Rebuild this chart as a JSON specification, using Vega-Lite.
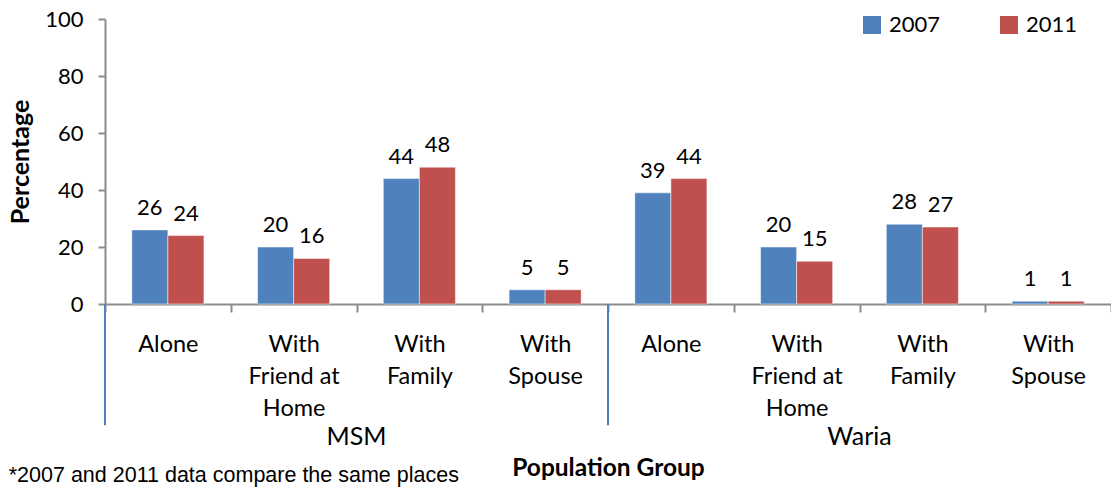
{
  "$schema": "https://vega.github.io/schema/vega-lite/v6.json",
  "width": 1006,
  "height": 285,
  "autosize": {"type": "none"},
  "padding": {"left": 105, "top": 19, "right": 0, "bottom": 184},
  "config": {
    "font": "Lato",
    "view": {"stroke": null},
    "axis": {"labelColor": "#000", "titleColor": "#000"}
  },
  "datasets": {
    "bars": [
      {"group": "MSM", "living": "Alone", "year": "2007", "value": 26},
      {"group": "MSM", "living": "Alone", "year": "2011", "value": 24},
      {"group": "MSM", "living": "With Friend at Home", "year": "2007", "value": 20},
      {"group": "MSM", "living": "With Friend at Home", "year": "2011", "value": 16},
      {"group": "MSM", "living": "With Family", "year": "2007", "value": 44},
      {"group": "MSM", "living": "With Family", "year": "2011", "value": 48},
      {"group": "MSM", "living": "With Spouse", "year": "2007", "value": 5},
      {"group": "MSM", "living": "With Spouse", "year": "2011", "value": 5},
      {"group": "Waria", "living": "Alone", "year": "2007", "value": 39},
      {"group": "Waria", "living": "Alone", "year": "2011", "value": 44},
      {"group": "Waria", "living": "With Friend at Home", "year": "2007", "value": 20},
      {"group": "Waria", "living": "With Friend at Home", "year": "2011", "value": 15},
      {"group": "Waria", "living": "With Family", "year": "2007", "value": 28},
      {"group": "Waria", "living": "With Family", "year": "2011", "value": 27},
      {"group": "Waria", "living": "With Spouse", "year": "2007", "value": 1},
      {"group": "Waria", "living": "With Spouse", "year": "2011", "value": 1}
    ],
    "groups": [
      {"group": "MSM", "first": "MSM~Alone", "middle": "MSM~With Friend at Home"},
      {"group": "Waria", "first": "Waria~Alone", "middle": "Waria~With Friend at Home"}
    ]
  },
  "title": {
    "text": "*2007 and 2011 data compare the same places",
    "orient": "bottom",
    "anchor": "start",
    "frame": "bounds",
    "font": "Liberation Sans",
    "fontSize": 21.5,
    "fontWeight": "normal",
    "color": "#000",
    "offset": -15
  },
  "encoding": {
    "x": {
      "type": "nominal",
      "scale": {
        "domain": ["MSM~Alone", "MSM~With Friend at Home", "MSM~With Family", "MSM~With Spouse", "Waria~Alone", "Waria~With Friend at Home", "Waria~With Family", "Waria~With Spouse"],
        "paddingInner": 0,
        "paddingOuter": 0
      },
      "axis": {
        "title": "Population Group",
        "titleFontSize": 24.5,
        "titleFontWeight": "bold",
        "titlePadding": 37,
        "labelExpr": "isString(datum.value) ? split(replace(replace(slice(datum.value, indexof(datum.value, '~') + 1), 'With ', 'With~'), 'Friend at ', 'Friend at~'), '~') : ''",
        "labelAngle": 0,
        "labelFontSize": 23.5,
        "labelLineHeight": 32,
        "labelPadding": 20,
        "labelLimit": 300,
        "tickSize": 8,
        "tickWidth": 2,
        "tickColor": "#8c8c8c",
        "tickBand": "extent",
        "domainColor": "#8c8c8c",
        "domainWidth": 2
      }
    }
  },
  "layer": [
    {
      "data": {"name": "bars"},
      "transform": [{"calculate": "datum.group + '~' + datum.living", "as": "key"}],
      "mark": {"type": "bar", "stroke": "#ffffff", "strokeWidth": 0.5},
      "encoding": {
        "x": {"field": "key", "type": "nominal"},
        "xOffset": {"field": "year", "type": "nominal", "scale": {"paddingOuter": 0.744, "paddingInner": 0}},
        "y": {
          "field": "value",
          "type": "quantitative",
          "scale": {"domain": [0, 100]},
          "axis": {
            "title": "Percentage",
            "titleFontSize": 25,
            "titleFontWeight": "bold",
            "titlePadding": 11,
            "values": [0, 20, 40, 60, 80, 100],
            "grid": false,
            "labelFontSize": 22,
            "labelPadding": 15,
            "tickSize": 7,
            "tickWidth": 2,
            "tickColor": "#8c8c8c",
            "domainColor": "#8c8c8c",
            "domainWidth": 2
          }
        },
        "color": {
          "field": "year",
          "type": "nominal",
          "scale": {"domain": ["2007", "2011"], "range": ["#4F81BD", "#C0504D"]},
          "legend": {
            "title": null,
            "orient": "none",
            "legendX": 756,
            "legendY": -5,
            "direction": "horizontal",
            "symbolType": "square",
            "symbolSize": 324,
            "symbolStrokeWidth": 0,
            "labelFontSize": 22,
            "labelOffset": 6,
            "columnPadding": 57,
            "labelColor": "#000"
          }
        }
      }
    },
    {
      "data": {"name": "bars"},
      "transform": [{"calculate": "datum.group + '~' + datum.living", "as": "key"}],
      "mark": {"type": "text", "baseline": "alphabetic", "dy": -15, "fontSize": 22, "color": "#000"},
      "encoding": {
        "x": {"field": "key", "type": "nominal"},
        "xOffset": {"field": "year", "type": "nominal", "scale": {"paddingOuter": 0.744, "paddingInner": 0}},
        "y": {"field": "value", "type": "quantitative"},
        "text": {"field": "value", "type": "quantitative"}
      }
    },
    {
      "data": {"name": "groups"},
      "mark": {"type": "rule", "color": "#4F81BD", "strokeWidth": 2},
      "encoding": {
        "x": {"field": "first", "type": "nominal", "bandPosition": 0},
        "y": {"datum": 0},
        "y2": {"datum": -42.5}
      }
    },
    {
      "data": {"name": "groups"},
      "mark": {"type": "text", "baseline": "middle", "fontSize": 25, "color": "#000"},
      "encoding": {
        "x": {"field": "middle", "type": "nominal", "bandPosition": 1},
        "y": {"datum": -46.5},
        "text": {"field": "group", "type": "nominal"}
      }
    }
  ]
}
